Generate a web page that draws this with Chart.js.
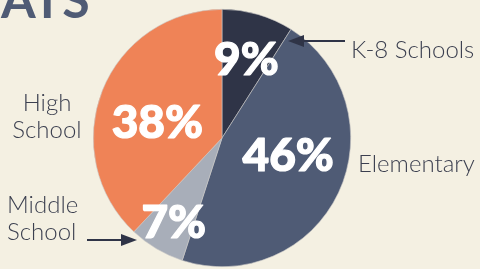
<!DOCTYPE html>
<html>
<head>
<meta charset="utf-8">
<script src="https://cdn.jsdelivr.net/npm/chart.js@4"></script>
<style>
  html, body { margin: 0; padding: 0; background: #f4f0e2; overflow: hidden; }
  #wrap { position: relative; width: 480px; height: 269px; }
  canvas { display: block; }
</style>
</head>
<body>
<div id="wrap"><canvas id="pieChart" width="480" height="269"></canvas></div>
<script>
// school types, clockwise from 12 o'clock
const categories = ['K-8 Schools', 'Elementary', 'Middle School', 'High School'];
const shares = [9, 46, 7, 38];
const sliceColors = ['#2f3447', '#4f5b75', '#a8aeb9', '#ef8357'];

// where the white percent labels sit: angle from top (deg) and fraction of radius
const pctSpots = [
  { angle: 17, r: 0.65 },
  { angle: 104, r: 0.53 },
  { angle: 210, r: 0.75 },
  { angle: 285, r: 0.52 },
];

const labelFont = '300 24px Lato, "Open Sans", sans-serif';
const labelColor = '#3b3f4f';

function arrow(ctx, x1, y1, x2, y2) {
  // line from (x1,y1) ending in a filled head at (x2,y2)
  const ang = Math.atan2(y2 - y1, x2 - x1);
  const head = 16, half = 6;
  ctx.strokeStyle = '#2f3447';
  ctx.fillStyle = '#2f3447';
  ctx.lineWidth = 2;
  ctx.beginPath();
  ctx.moveTo(x1, y1);
  ctx.lineTo(x2 - Math.cos(ang) * head, y2 - Math.sin(ang) * head);
  ctx.stroke();
  ctx.beginPath();
  ctx.moveTo(x2, y2);
  ctx.lineTo(x2 - Math.cos(ang) * head - Math.sin(ang) * half, y2 - Math.sin(ang) * head + Math.cos(ang) * half);
  ctx.lineTo(x2 - Math.cos(ang) * head + Math.sin(ang) * half, y2 - Math.sin(ang) * head - Math.cos(ang) * half);
  ctx.closePath();
  ctx.fill();
}

const annotations = {
  id: 'annotations',
  afterDraw(chart) {
    const ctx = chart.ctx;
    const arcs = chart.getDatasetMeta(0).data;
    const cx = arcs[0].x, cy = arcs[0].y, R = arcs[0].outerRadius;

    ctx.save();
    // big white percentages (thin white stroke to thicken the glyphs a bit)
    ctx.fillStyle = '#ffffff';
    ctx.strokeStyle = '#ffffff';
    ctx.lineWidth = 1.2;
    ctx.lineJoin = 'round';
    ctx.font = '900 46px Lato, "DejaVu Sans", sans-serif';
    ctx.textAlign = 'center';
    ctx.textBaseline = 'middle';
    shares.forEach((v, i) => {
      const a = pctSpots[i].angle * Math.PI / 180;
      const r = pctSpots[i].r * R;
      const x = cx + Math.sin(a) * r, y = cy - Math.cos(a) * r + 2;
      ctx.fillText(v + '%', x, y);
      ctx.strokeText(v + '%', x, y);
    });

    // category labels
    ctx.fillStyle = labelColor;
    ctx.font = labelFont;
    ctx.textAlign = 'left';
    ctx.fillText(categories[0], 351, 50);
    ctx.fillText(categories[1], 358, 164);
    ctx.textAlign = 'center';
    ctx.fillText('High', 47, 103);
    ctx.fillText('School', 47, 130);
    ctx.textAlign = 'left';
    ctx.fillText('Middle', 7, 205);
    ctx.fillText('School', 7, 232);

    arrow(ctx, 345, 41, 288, 41);
    arrow(ctx, 87, 240, 137, 240);

    // cropped heading at the top
    ctx.fillStyle = '#4f5b75';
    ctx.font = 'bold 50px Lato, "DejaVu Sans", sans-serif';
    ctx.textBaseline = 'alphabetic';
    ctx.fillText('ATS', 1, 18);
    ctx.restore();
  }
};

new Chart(document.getElementById('pieChart'), {
  type: 'pie',
  data: {
    labels: categories,
    datasets: [{
      data: shares,
      backgroundColor: sliceColors,
      borderColor: '#c9c8c6',
      borderWidth: 0.6,
    }],
  },
  options: {
    responsive: false,
    animation: false,
    layout: { padding: { top: 9, bottom: 2, left: 93, right: 129 } },
    plugins: {
      legend: { display: false },
      tooltip: { enabled: false },
    },
  },
  plugins: [annotations],
});
</script>
</body>
</html>
